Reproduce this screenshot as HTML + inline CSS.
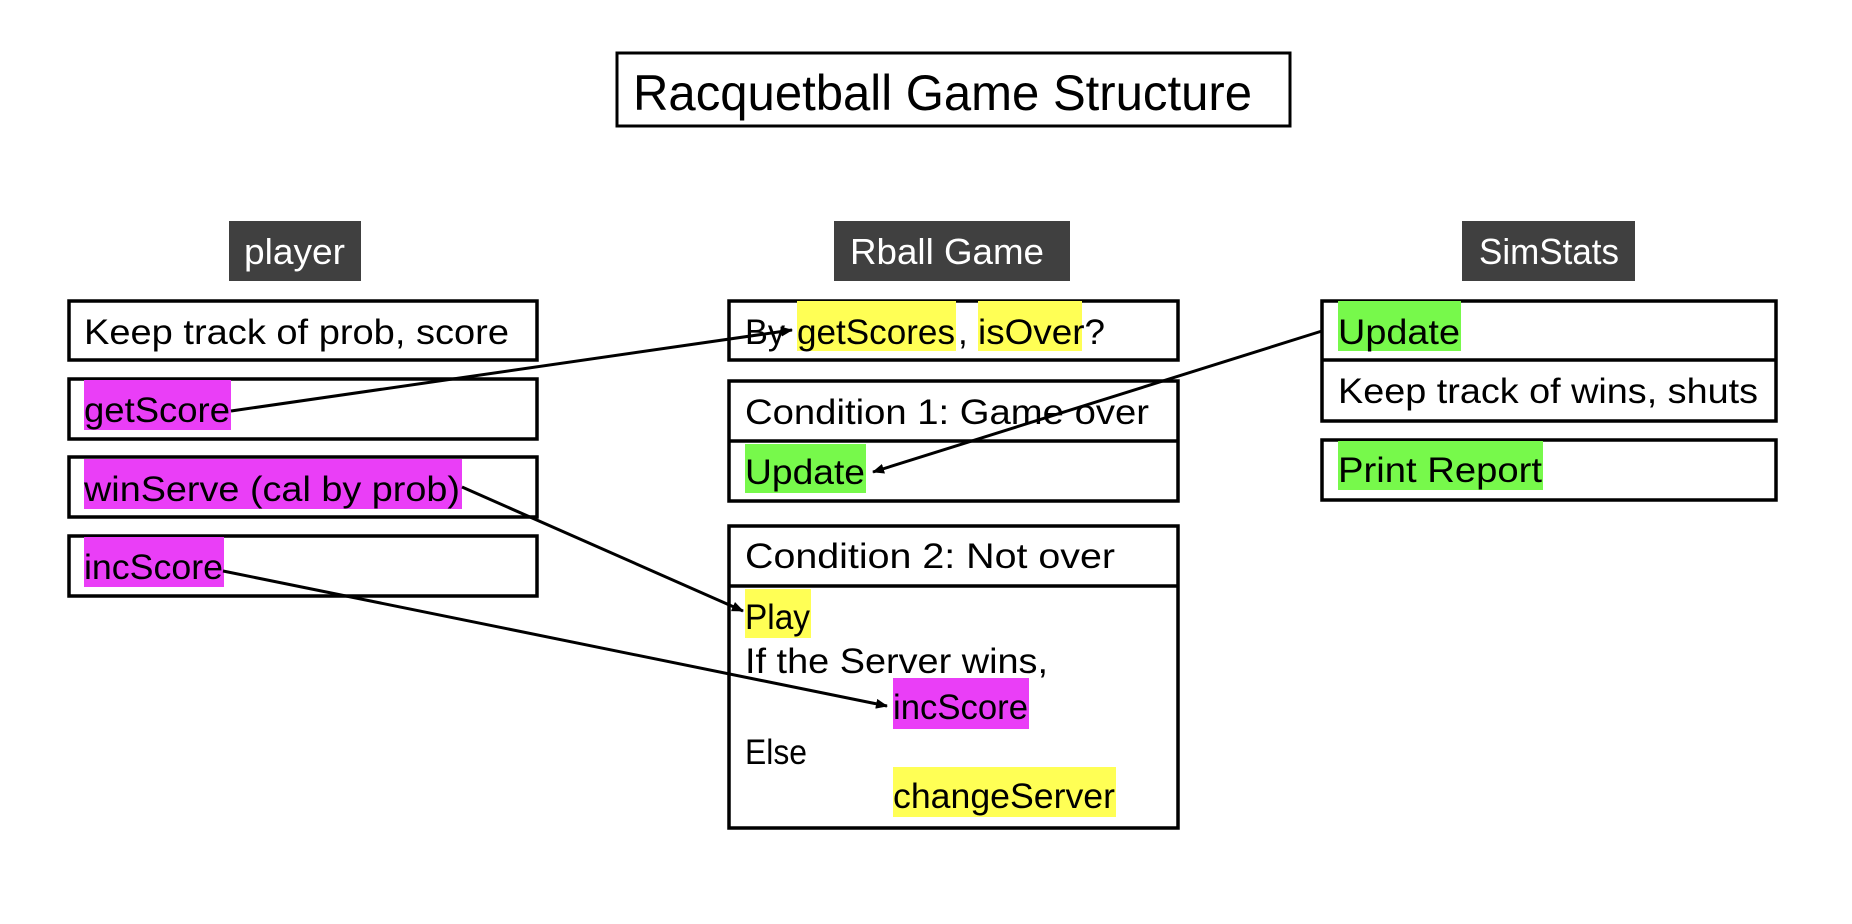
<!DOCTYPE html>
<html><head><meta charset="utf-8"><style>html,body{margin:0;padding:0;background:#fff}svg{display:block}</style></head>
<body>
<svg width="1852" height="924" viewBox="0 0 1852 924" xmlns="http://www.w3.org/2000/svg" font-family="Liberation Sans, sans-serif">
<defs><marker id="a" markerWidth="12" markerHeight="10" refX="11" refY="5" orient="auto" markerUnits="userSpaceOnUse"><path d="M0,0 L12,5 L0,10 z" fill="#000"/></marker></defs>
<rect x="617" y="53" width="673" height="73" fill="#fff" stroke="#000" stroke-width="3"/>
<text x="633" y="110" font-size="50" textLength="619" lengthAdjust="spacingAndGlyphs">Racquetball Game Structure</text>
<!-- headers -->
<rect x="229" y="221" width="132" height="60" fill="#404040"/>
<text x="244" y="264" font-size="36" fill="#fff" textLength="101" lengthAdjust="spacingAndGlyphs">player</text>
<rect x="834" y="221" width="236" height="60" fill="#404040"/>
<text x="850" y="264" font-size="36" fill="#fff" textLength="194" lengthAdjust="spacingAndGlyphs">Rball Game</text>
<rect x="1462" y="221" width="173" height="60" fill="#404040"/>
<text x="1479" y="264" font-size="36" fill="#fff" textLength="140" lengthAdjust="spacingAndGlyphs">SimStats</text>
<g fill="none" stroke="#000" stroke-width="3.5">
<rect x="69" y="301" width="468" height="59"/>
<rect x="69" y="379" width="468" height="60"/>
<rect x="69" y="457" width="468" height="60"/>
<rect x="69" y="536" width="468" height="60"/>
<rect x="729" y="301" width="449" height="59"/>
<rect x="729" y="381" width="449" height="120"/><line x1="729" y1="441" x2="1178" y2="441"/>
<rect x="729" y="526" width="449" height="302"/><line x1="729" y1="586" x2="1178" y2="586"/>
<rect x="1322" y="301" width="454" height="120"/><line x1="1322" y1="360" x2="1776" y2="360"/>
<rect x="1322" y="440" width="454" height="60"/>
</g>
<!-- highlights -->
<g>
<rect x="84" y="380" width="147" height="50" fill="#ea3ef7"/>
<rect x="84" y="459" width="378" height="50" fill="#ea3ef7"/>
<rect x="84" y="537" width="140" height="50" fill="#ea3ef7"/>
<rect x="797" y="301" width="159" height="50" fill="#ffff55"/>
<rect x="978" y="301" width="104" height="50" fill="#ffff55"/>
<rect x="745" y="444" width="121" height="49" fill="#77f94b"/>
<rect x="745" y="589" width="66" height="49" fill="#ffff55"/>
<rect x="893" y="678" width="136" height="51" fill="#ea3ef7"/>
<rect x="893" y="767" width="223" height="50" fill="#ffff55"/>
<rect x="1338" y="301" width="123" height="50" fill="#77f94b"/>
<rect x="1338" y="441" width="205" height="49" fill="#77f94b"/>
</g>
<g font-size="35" fill="#000">
<text x="84" y="344" textLength="425" lengthAdjust="spacingAndGlyphs">Keep track of prob, score</text>
<text x="84" y="422" textLength="146" lengthAdjust="spacingAndGlyphs">getScore</text>
<text x="84" y="501" textLength="376" lengthAdjust="spacingAndGlyphs">winServe (cal by prob)</text>
<text x="84" y="579" textLength="139" lengthAdjust="spacingAndGlyphs">incScore</text>
<text x="745" y="344" textLength="40" lengthAdjust="spacingAndGlyphs">By</text>
<text x="797" y="344" textLength="158" lengthAdjust="spacingAndGlyphs">getScores</text>
<text x="958" y="344">,</text>
<text x="978" y="344" textLength="127" lengthAdjust="spacingAndGlyphs">isOver?</text>
<text x="745" y="424" textLength="404" lengthAdjust="spacingAndGlyphs">Condition 1: Game over</text>
<text x="745" y="484" textLength="120" lengthAdjust="spacingAndGlyphs">Update</text>
<text x="745" y="568" textLength="370" lengthAdjust="spacingAndGlyphs">Condition 2: Not over</text>
<text x="745" y="629" textLength="65" lengthAdjust="spacingAndGlyphs">Play</text>
<text x="745" y="673" textLength="303" lengthAdjust="spacingAndGlyphs">If the Server wins,</text>
<text x="893" y="719" textLength="135" lengthAdjust="spacingAndGlyphs">incScore</text>
<text x="745" y="764" textLength="62" lengthAdjust="spacingAndGlyphs">Else</text>
<text x="893" y="808" textLength="222" lengthAdjust="spacingAndGlyphs">changeServer</text>
<text x="1338" y="344" textLength="122" lengthAdjust="spacingAndGlyphs">Update</text>
<text x="1338" y="403" textLength="420" lengthAdjust="spacingAndGlyphs">Keep track of wins, shuts</text>
<text x="1338" y="482" textLength="204" lengthAdjust="spacingAndGlyphs">Print Report</text>
</g>
<g stroke="#000" stroke-width="3" fill="none">
<line x1="231" y1="411" x2="792" y2="330" marker-end="url(#a)"/>
<line x1="1322" y1="331" x2="873" y2="472" marker-end="url(#a)"/>
<line x1="462" y1="487" x2="743" y2="611" marker-end="url(#a)"/>
<line x1="223" y1="571" x2="887" y2="706" marker-end="url(#a)"/>
</g>
</svg>
</body></html>
